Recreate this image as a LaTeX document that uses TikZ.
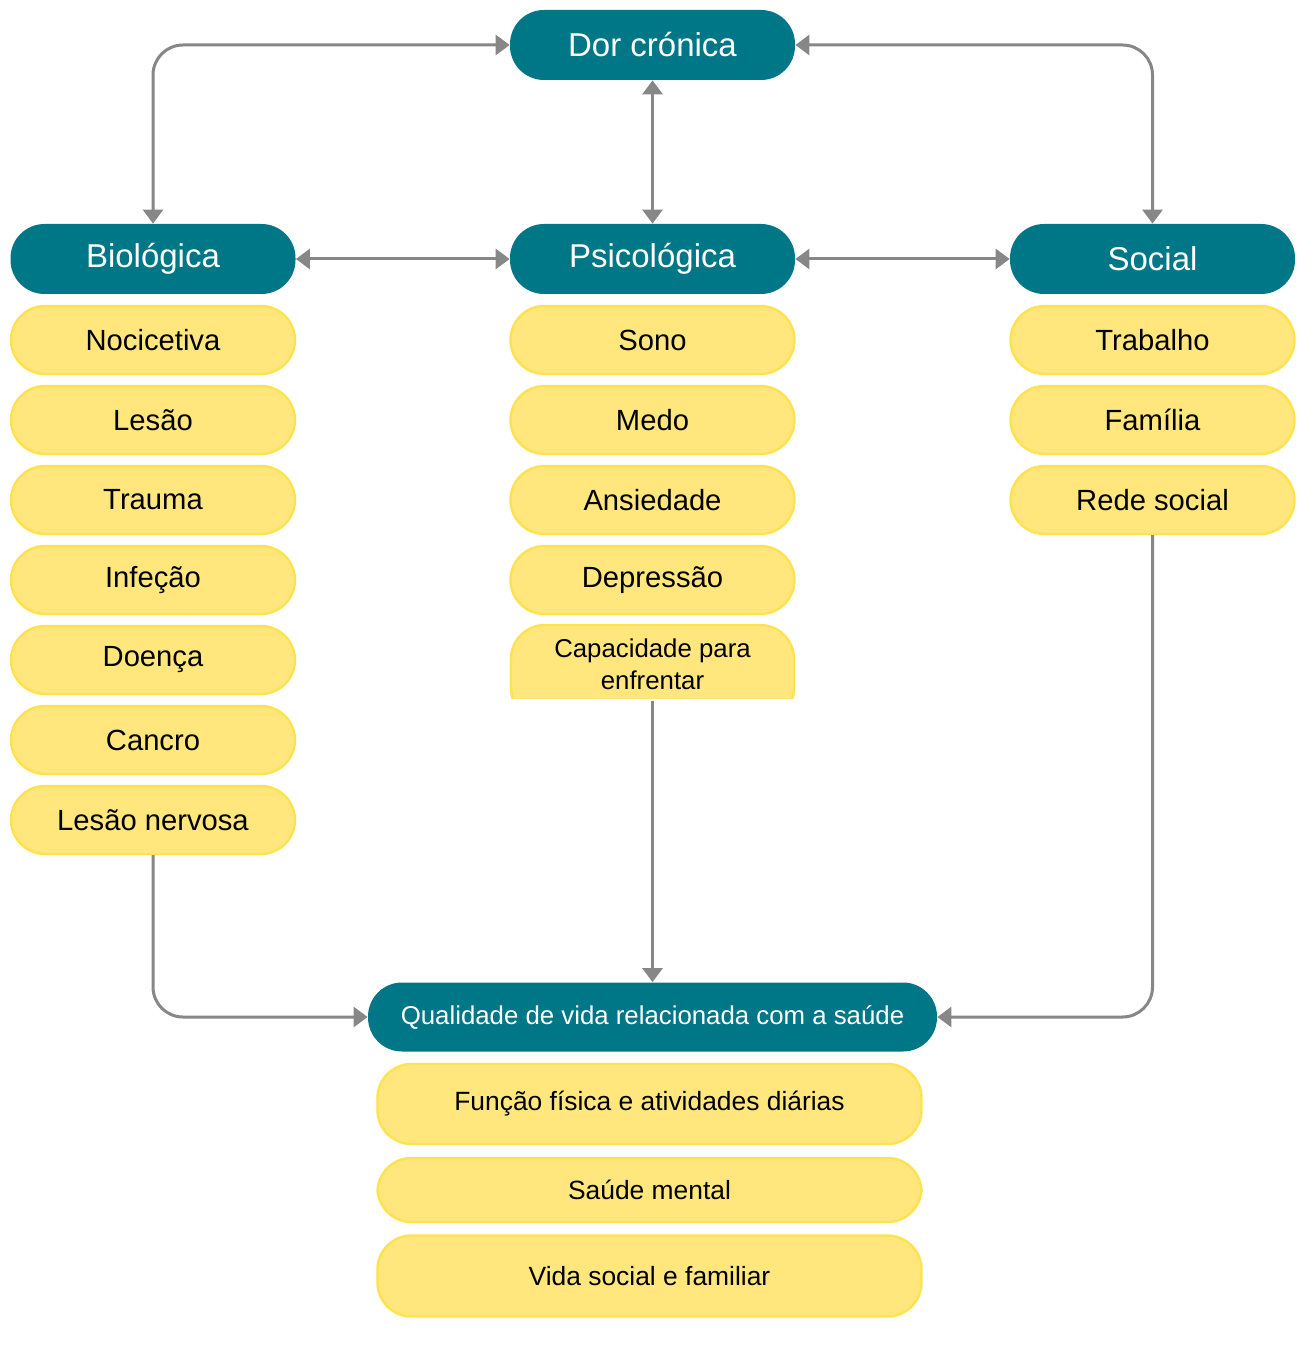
\documentclass[tikz,border=0pt]{standalone}
\usepackage{fontspec}
\setmainfont{Liberation Sans}
\usetikzlibrary{arrows.meta,backgrounds}
\definecolor{teal1}{HTML}{007786}
\definecolor{yfill}{HTML}{FFE77E}
\definecolor{yline}{HTML}{FFE24F}
\definecolor{connc}{HTML}{878787}
\definecolor{stemc}{HTML}{555555}
\begin{document}
\begin{tikzpicture}[x=0.5pt,y=-0.5pt,
  >={Triangle[width=10pt,length=7pt]},
  hdr/.style={rectangle, rounded corners=17pt, fill=teal1, text=white,
    minimum width=142.5pt, minimum height=35pt, inner sep=0pt,
    font=\fontsize{16.5}{19}\selectfont},
  ybox/.style={rectangle, rounded corners=17pt, fill=yfill, draw=yline,
    line width=1.2pt, text=black, minimum width=142pt, minimum height=34pt,
    inner sep=0pt, font=\fontsize{14.6}{17}\selectfont},
  wbox/.style={ybox, minimum width=272pt, font=\fontsize{13.2}{15}\selectfont},
  conn/.style={draw=connc, line width=1.5pt, rounded corners=15pt},
  stem/.style={draw=stemc, line width=1pt}]
\useasboundingbox (0,0) rectangle (1307,1347);
\fill[white] (0,0) rectangle (1307,1347);

% header nodes
\node[hdr] (dor) at (652.5,45) {Dor crónica};
\node[hdr] (bio) at (153,259) {Biológica};
\node[hdr] (psi) at (652.5,259) {Psicológica};
\node[hdr] (soc) at (1152.5,259) {Social};

% biological column
\node[ybox] (b1) at (153,340) {Nocicetiva};
\node[ybox] (b2) at (153,420) {Lesão};
\node[ybox] (b3) at (153,500) {Trauma};
\node[ybox] (b4) at (153,580) {Infeção};
\node[ybox] (b5) at (153,660) {Doença};
\node[ybox] (b6) at (153,740) {Cancro};
\node[ybox] (b7) at (153,820) {Lesão nervosa};

% psychological column
\node[ybox] (c1) at (652.5,340) {Sono};
\node[ybox] (c2) at (652.5,420) {Medo};
\node[ybox] (c3) at (652.5,500) {Ansiedade};
\node[ybox] (c4) at (652.5,580) {Depressão};
\begin{scope}
  \clip (505,618) rectangle (800,698);
  \filldraw[fill=yfill, draw=yline, line width=1.2pt, rounded corners=17pt]
    (511,625) rectangle (794,722);
\end{scope}
\node[inner sep=0pt, minimum width=142pt, minimum height=36.5pt, align=center,
  font=\fontsize{12.9}{16}\selectfont] (c5) at (652.5,664)
  {Capacidade para\\enfrentar};

% social column
\node[ybox] (s1) at (1152.5,340) {Trabalho};
\node[ybox] (s2) at (1152.5,420) {Família};
\node[ybox] (s3) at (1152.5,500) {Rede social};

% quality of life
\node[hdr, minimum width=284.5pt, minimum height=34.5pt,
  font=\fontsize{12.9}{15}\selectfont] (q) at (652.5,1017)
  {Qualidade de vida relacionada com a saúde};
\node[wbox, minimum height=40pt] (q1) at (649.5,1104) {Função física e atividades diárias};
\node[wbox, minimum height=32pt] (q2) at (649.5,1190) {Saúde mental};
\node[wbox, minimum height=40.5pt] (q3) at (649.5,1276) {Vida social e familiar};

% column stems
\begin{scope}[on background layer]
  \draw[stem] (bio.center) -- (b7.center);
  \draw[stem] (psi.center) -- (c5.center);
  \draw[stem] (soc.center) -- (s3.center);
\end{scope}

% connectors
\draw[conn,<->] (bio.north) |- (dor.west);
\draw[conn,<->] (soc.north) |- (dor.east);
\draw[conn,<->] (dor.south) -- (psi.north);
\draw[conn,<->] (bio.east) -- (psi.west);
\draw[conn,<->] (psi.east) -- (soc.west);
\draw[conn,->] (b7.south) |- (q.west);
\draw[conn,->] (c5.south) -- (q.north);
\draw[conn,->] (s3.south) |- (q.east);
\end{tikzpicture}
\end{document}
